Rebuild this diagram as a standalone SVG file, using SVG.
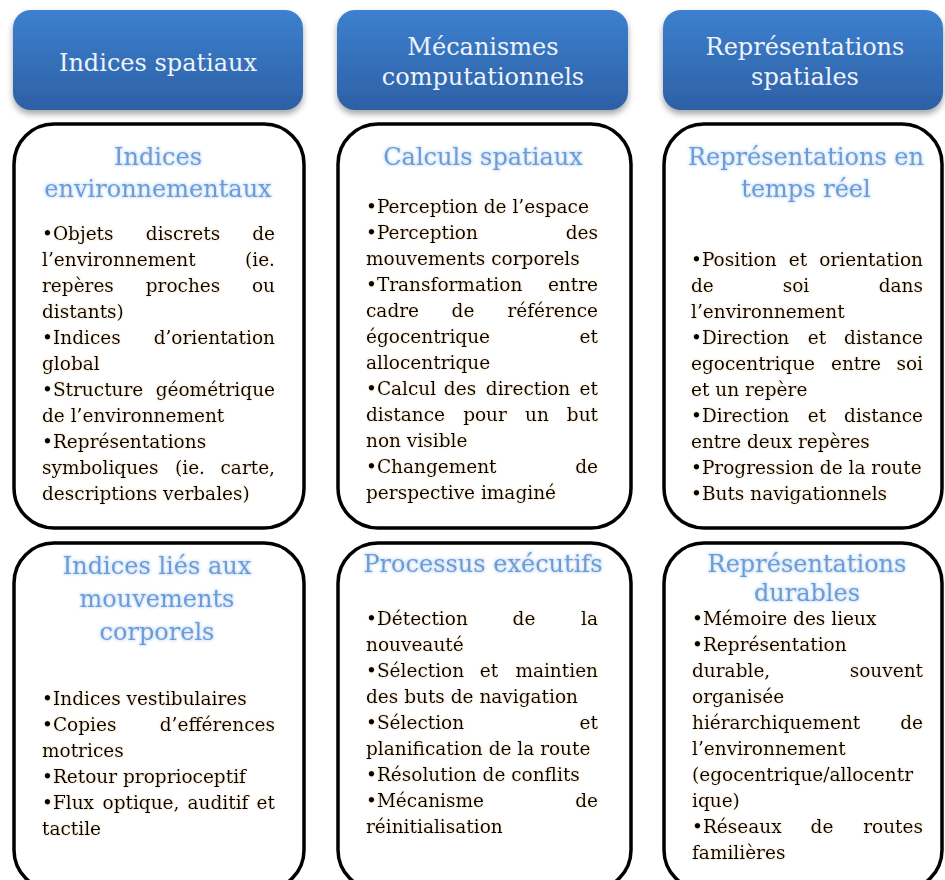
<svg xmlns="http://www.w3.org/2000/svg" width="945" height="880" viewBox="0 0 945 880">
<defs>
<linearGradient id="hg" x1="0" y1="0" x2="0" y2="1">
<stop offset="0" stop-color="#3d80cf"/>
<stop offset="1" stop-color="#2d60a5"/>
</linearGradient>
<filter id="hs" x="-10%" y="-10%" width="120%" height="130%">
<feGaussianBlur in="SourceAlpha" stdDeviation="3"/>
<feOffset dy="4" result="o"/>
<feFlood flood-color="#000" flood-opacity="0.35"/>
<feComposite in2="o" operator="in" result="s"/>
<feMerge><feMergeNode in="s"/><feMergeNode in="SourceGraphic"/></feMerge>
</filter>
<filter id="tg" x="-5%" y="-30%" width="110%" height="160%">
<feMorphology operator="dilate" radius="0.3" in="SourceAlpha" result="d"/>
<feGaussianBlur in="d" stdDeviation="0.9" result="b"/>
<feFlood flood-color="#c8904a" flood-opacity="0.45"/>
<feComposite in2="b" operator="in" result="g"/>
<feMerge><feMergeNode in="g"/><feMergeNode in="SourceGraphic"/></feMerge>
</filter>
<filter id="bg" x="-5%" y="-30%" width="110%" height="160%">
<feMorphology operator="dilate" radius="0.5" in="SourceAlpha" result="d"/>
<feGaussianBlur in="d" stdDeviation="1.2" result="b"/>
<feFlood flood-color="#b9d3f2" flood-opacity="0.6"/>
<feComposite in2="b" operator="in" result="g"/>
<feMerge><feMergeNode in="g"/><feMergeNode in="SourceGraphic"/></feMerge>
</filter>
<style>
.hb{fill:url(#hg);filter:url(#hs)}
.box{fill:#fff;stroke:#000;stroke-width:3.5}
.h{font-family:"DejaVu Serif","Liberation Serif",serif;font-size:24px;fill:#eef3fb;text-anchor:middle}
.t{font-family:"DejaVu Serif","Liberation Serif",serif;font-size:24px;fill:#6b9cd8;text-anchor:middle;filter:url(#bg)}
.b{font-family:"DejaVu Serif","Liberation Serif",serif;font-size:18.5px;fill:#000;filter:url(#tg)}
.m{text-anchor:middle}
.e{text-anchor:end}
</style>
</defs>
<rect width="945" height="880" fill="#fff"/>

<g id="header-indices-spatiaux">
<rect class="hb" x="13" y="10" width="290" height="100" rx="18"/>
<text class="h" x="158" y="71">Indices spatiaux</text>
</g>
<g id="header-mecanismes">
<rect class="hb" x="337" y="10" width="291" height="100" rx="18"/>
<text class="h" x="483" y="55">Mécanismes</text>
<text class="h" x="483" y="85">computationnels</text>
</g>
<g id="header-representations">
<rect class="hb" x="663" y="10" width="280" height="100" rx="18"/>
<text class="h" x="805" y="55">Représentations</text>
<text class="h" x="805" y="85">spatiales</text>
</g>

<g id="box-indices-environnementaux">
<rect class="box" x="14" y="124" width="290" height="404" rx="40"/>
<text class="t" x="158" y="165">Indices</text>
<text class="t" x="158" y="197">environnementaux</text>
<g class="b">
<text x="42" y="240">•Objets</text><text class="m" x="183" y="240">discrets</text><text class="e" x="275" y="240">de</text>
<text x="42" y="266">l’environnement</text><text class="e" x="275" y="266">(ie.</text>
<text x="42" y="292">repères</text><text class="m" x="183" y="292">proches</text><text class="e" x="275" y="292">ou</text>
<text x="42" y="318">distants)</text>
<text x="42" y="344">•Indices</text><text class="e" x="275" y="344">d’orientation</text>
<text x="42" y="370">global</text>
<text x="42" y="396">•Structure</text><text class="e" x="275" y="396">géométrique</text>
<text x="42" y="422">de l’environnement</text>
<text x="42" y="448">•Représentations</text>
<text x="42" y="474">symboliques</text><text class="m" x="190" y="474">(ie.</text><text class="e" x="275" y="474">carte,</text>
<text x="42" y="500">descriptions verbales)</text>
</g>
</g>

<g id="box-calculs-spatiaux">
<rect class="box" x="338" y="124" width="293" height="404" rx="40"/>
<text class="t" x="483" y="165">Calculs spatiaux</text>
<g class="b">
<text x="366" y="213">•Perception de l’espace</text>
<text x="366" y="239">•Perception</text><text class="e" x="598" y="239">des</text>
<text x="366" y="265">mouvements corporels</text>
<text x="366" y="291">•Transformation</text><text class="e" x="598" y="291">entre</text>
<text x="366" y="317">cadre</text><text class="m" x="463" y="317">de</text><text class="e" x="598" y="317">référence</text>
<text x="366" y="343">égocentrique</text><text class="e" x="598" y="343">et</text>
<text x="366" y="369">allocentrique</text>
<text x="366" y="395">•Calcul</text><text class="m" x="460" y="395">des</text><text class="m" x="528" y="395">direction</text><text class="e" x="598" y="395">et</text>
<text x="366" y="421">distance</text><text class="m" x="485" y="421">pour</text><text class="m" x="537" y="421">un</text><text class="e" x="598" y="421">but</text>
<text x="366" y="447">non visible</text>
<text x="366" y="473">•Changement</text><text class="e" x="598" y="473">de</text>
<text x="366" y="499">perspective imaginé</text>
</g>
</g>

<g id="box-temps-reel">
<rect class="box" x="664" y="124" width="278" height="404" rx="40"/>
<text class="t" x="806" y="165">Représentations en</text>
<text class="t" x="806" y="197">temps réel</text>
<g class="b">
<text x="691" y="266">•Position</text><text class="m" x="798" y="266">et</text><text class="e" x="923" y="266">orientation</text>
<text x="691" y="292">de</text><text class="m" x="796" y="292">soi</text><text class="e" x="923" y="292">dans</text>
<text x="691" y="318">l’environnement</text>
<text x="691" y="344">•Direction</text><text class="m" x="817" y="344">et</text><text class="e" x="923" y="344">distance</text>
<text x="691" y="370">egocentrique</text><text class="m" x="856" y="370">entre</text><text class="e" x="923" y="370">soi</text>
<text x="691" y="396">et un repère</text>
<text x="691" y="422">•Direction</text><text class="m" x="817" y="422">et</text><text class="e" x="923" y="422">distance</text>
<text x="691" y="448">entre deux repères</text>
<text x="691" y="474">•Progression de la route</text>
<text x="691" y="500">•Buts navigationnels</text>
</g>
</g>

<g id="box-mouvements-corporels">
<rect class="box" x="14" y="543" width="290" height="347" rx="40"/>
<text class="t" x="157" y="574">Indices liés aux</text>
<text class="t" x="157" y="607">mouvements</text>
<text class="t" x="157" y="640">corporels</text>
<g class="b">
<text x="42" y="705">•Indices vestibulaires</text>
<text x="42" y="731">•Copies</text><text class="e" x="275" y="731">d’efférences</text>
<text x="42" y="757">motrices</text>
<text x="42" y="783">•Retour proprioceptif</text>
<text x="42" y="809">•Flux</text><text class="m" x="141" y="809">optique,</text><text class="m" x="218" y="809">auditif</text><text class="e" x="275" y="809">et</text>
<text x="42" y="835">tactile</text>
</g>
</g>

<g id="box-processus-executifs">
<rect class="box" x="338" y="543" width="293" height="347" rx="40"/>
<text class="t" x="483" y="572">Processus exécutifs</text>
<g class="b">
<text x="366" y="625">•Détection</text><text class="m" x="524" y="625">de</text><text class="e" x="598" y="625">la</text>
<text x="366" y="651">nouveauté</text>
<text x="366" y="677">•Sélection</text><text class="m" x="489" y="677">et</text><text class="e" x="598" y="677">maintien</text>
<text x="366" y="703">des buts de navigation</text>
<text x="366" y="729">•Sélection</text><text class="e" x="598" y="729">et</text>
<text x="366" y="755">planification de la route</text>
<text x="366" y="781">•Résolution de conflits</text>
<text x="366" y="807">•Mécanisme</text><text class="e" x="598" y="807">de</text>
<text x="366" y="833">réinitialisation</text>
</g>
</g>

<g id="box-durables">
<rect class="box" x="664" y="543" width="278" height="347" rx="40"/>
<text class="t" x="807" y="572">Représentations</text>
<text class="t" x="807" y="601">durables</text>
<g class="b">
<text x="692" y="625">•Mémoire des  lieux</text>
<text x="692" y="651">•Représentation</text>
<text x="692" y="677">durable,</text><text class="e" x="923" y="677">souvent</text>
<text x="692" y="703">organisée</text>
<text x="692" y="729">hiérarchiquement</text><text class="e" x="923" y="729">de</text>
<text x="692" y="755">l’environnement</text>
<text x="692" y="781">(egocentrique/allocentr</text>
<text x="692" y="807">ique)</text>
<text x="692" y="833">•Réseaux</text><text class="m" x="822" y="833">de</text><text class="e" x="923" y="833">routes</text>
<text x="692" y="859">familières</text>
</g>
</g>
</svg>
